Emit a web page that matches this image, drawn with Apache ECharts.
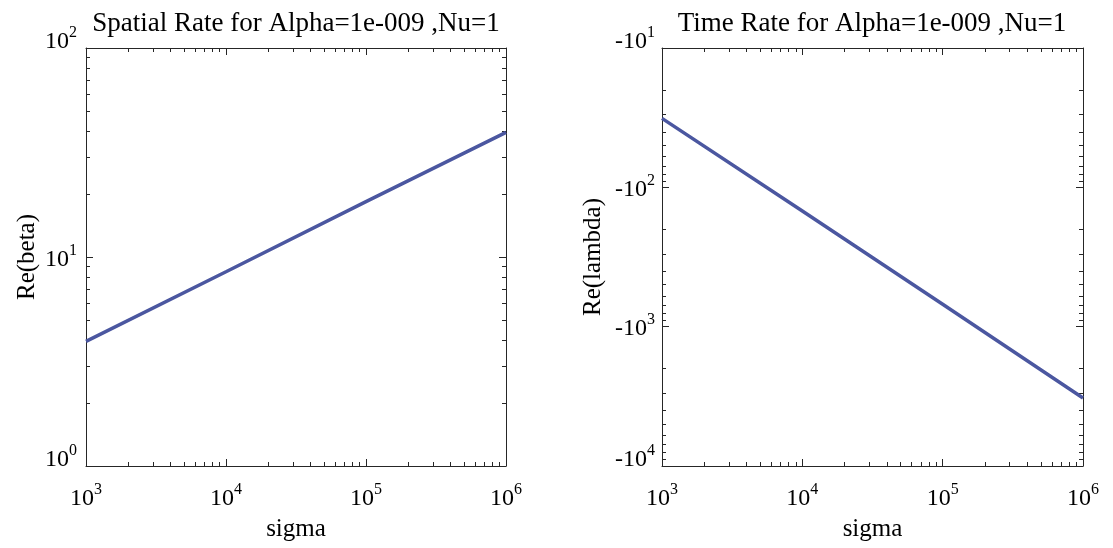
<!DOCTYPE html>
<html><head><meta charset="utf-8">
<script src="https://cdn.jsdelivr.net/npm/echarts@6/dist/echarts.min.js"></script>
<style>html,body{margin:0;padding:0;background:#fff}#c{width:1113px;height:548px}</style>
</head><body><div id="c"></div>
<script>
// ---- data ----
const sigma = [1e3, 1e4, 1e5, 1e6];
const reBeta = [3.95, 8.5, 18.4, 39.5];
const reLambda = [-32, -148, -690, -3250];
const xMajor = [1e3, 1e4, 1e5, 1e6];
const xMinor = [2e3,3e3,4e3,5e3,6e3,7e3,8e3,9e3,2e4,3e4,4e4,5e4,6e4,7e4,8e4,9e4,2e5,3e5,4e5,5e5,6e5,7e5,8e5,9e5];
const yLeftMajor = [1, 10, 100];
const yLeftMinor = [2,3,4,5,6,7,8,9,20,30,40,50,60,70,80,90];
const yRightMajor = [10, 100, 1000, 10000]; // magnitudes, shown as -10^n
const yRightMinor = [20,30,40,50,60,70,80,90,200,300,400,500,600,700,800,900,2000,3000,4000,5000,6000,7000,8000,9000];
const titles = ['Spatial Rate for Alpha=1e-009 ,Nu=1', 'Time Rate for Alpha=1e-009 ,Nu=1'];
const xName = 'sigma';
const yNames = ['Re(beta)', 'Re(lambda)'];

const FONT = 'Liberation Serif';
const AXC = '#262626';
const rich = {
  b: {fontFamily: FONT, fontSize: 24, color: '#000', verticalAlign: 'bottom'},
  s: {fontFamily: FONT, fontSize: 16, color: '#000', verticalAlign: 'bottom', padding: [0, 0, 13, 0]},
  be: {fontFamily: FONT, fontSize: 24, color: '#000', verticalAlign: 'bottom', padding: [0, 0, 17, 0]},
  se: {fontFamily: FONT, fontSize: 16, color: '#000', verticalAlign: 'bottom', padding: [0, 0, 30, 0]}
};
function fmt(neg, ends) {
  return function (v) {
    const e = Math.round(Math.log10(Math.abs(v)));
    const isEnd = ends && (v === ends[0] || v === ends[1]);
    const b = isEnd ? 'be' : 'b', s = isEnd ? 'se' : 's';
    return '{' + b + '|' + (neg ? '-10' : '10') + '}{' + s + '|' + e + '}';
  };
}
function axes(dim, gi, min, max, major, minor, o) {
  const pos = dim === 'x' ? ['bottom', 'top'] : ['left', 'right'];
  const base = {type: 'log', logBase: 10, min: min, max: max, gridIndex: gi, inverse: !!o.inverse,
    splitLine: {show: false}, minorTick: {show: false}, minorSplitLine: {show: false}};
  const list = [];
  pos.forEach(function (p, k) {
    list.push(Object.assign({}, base, {
      position: p,
      name: k === 0 ? o.name : '',
      nameLocation: 'middle', nameGap: o.nameGap,
      nameTextStyle: {fontFamily: FONT, fontSize: 25, color: '#000'},
      axisLine: {show: true, onZero: false, lineStyle: {color: AXC, width: 1}},
      axisTick: {show: true, inside: true, length: 7, customValues: major, lineStyle: {color: AXC}},
      axisLabel: {show: k === 0, customValues: major, margin: o.margin,
        formatter: fmt(o.neg, dim === 'y' ? [min, max] : null), rich: rich}
    }));
    list.push(Object.assign({}, base, {
      position: p,
      axisLine: {show: false, onZero: false},
      axisTick: {show: true, inside: true, length: 4, customValues: minor, lineStyle: {color: AXC}},
      axisLabel: {show: false}
    }));
  });
  return list;
}

const xAxis = [].concat(
  axes('x', 0, 1e3, 1e6, xMajor, xMinor, {name: xName, nameGap: 51, margin: 16}),
  axes('x', 1, 1e3, 1e6, xMajor, xMinor, {name: xName, nameGap: 51, margin: 16})
);
const yAxis = [].concat(
  axes('y', 0, 1, 100, yLeftMajor, yLeftMinor, {name: yNames[0], nameGap: 46, margin: 9}),
  axes('y', 1, 10, 10000, yRightMajor, yRightMinor, {name: yNames[1], nameGap: 56, margin: 7, inverse: true, neg: true})
);

const chart = echarts.init(document.getElementById('c'), null, {renderer: 'canvas'});
chart.setOption({
  backgroundColor: '#fff',
  animation: false,
  title: [
    {text: titles[0], left: 291, top: 5, textAlign: 'center', textStyle: {fontFamily: FONT, fontSize: 27, fontWeight: 'normal', color: '#000'}},
    {text: titles[1], left: 867, top: 5, textAlign: 'center', textStyle: {fontFamily: FONT, fontSize: 27, fontWeight: 'normal', color: '#000'}}
  ],
  grid: [
    {left: 86, right: 607, top: 48, bottom: 82},
    {left: 662, right: 30, top: 48, bottom: 82}
  ],
  xAxis: xAxis,
  yAxis: yAxis,
  series: [
    {type: 'line', xAxisIndex: 0, yAxisIndex: 0, showSymbol: false, silent: true,
      lineStyle: {color: '#4b57a0', width: 3.5},
      data: sigma.map(function (s, i) { return [s, reBeta[i]]; })},
    {type: 'line', xAxisIndex: 4, yAxisIndex: 4, showSymbol: false, silent: true,
      lineStyle: {color: '#4b57a0', width: 3.5},
      data: sigma.map(function (s, i) { return [s, -reLambda[i]]; })}
  ]
});
</script></body></html>
